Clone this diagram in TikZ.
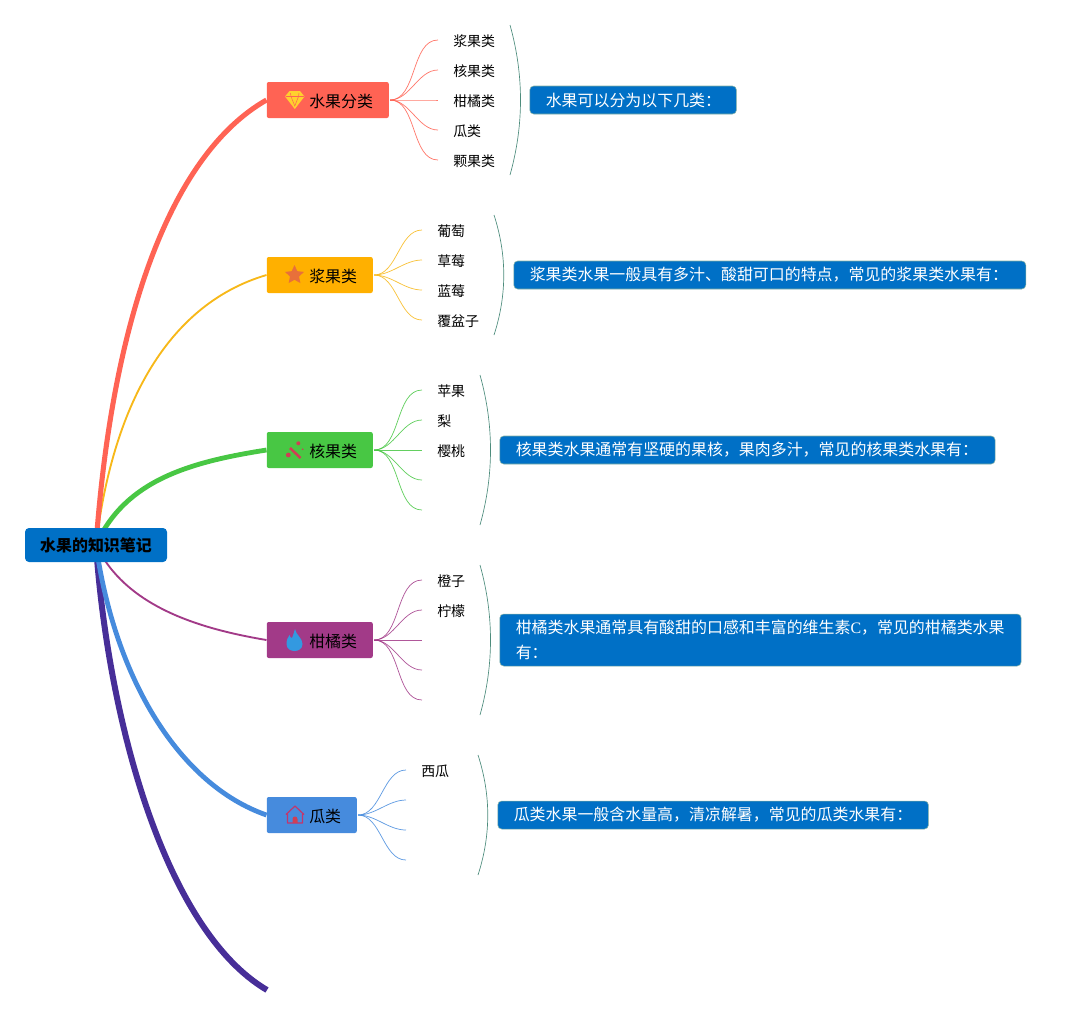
\documentclass[tikz,border=0pt]{standalone}
\usepackage{fontspec}
\setmainfont{Noto Sans CJK SC}
\newfontfamily\serifletter{Liberation Serif}
\usetikzlibrary{arrows.meta,positioning,calc,shapes.geometric}
\definecolor{TopicBlue}{HTML}{0070C6}
\definecolor{BranchRed}{HTML}{FF6354}
\definecolor{BranchAmber}{HTML}{F7B819}
\definecolor{BoxAmber}{HTML}{FFB000}
\definecolor{BranchGreen}{HTML}{48C744}
\definecolor{BranchPlum}{HTML}{A23A88}
\definecolor{BranchSky}{HTML}{468BDD}
\definecolor{BranchIndigo}{HTML}{472E98}
\definecolor{BraceTeal}{HTML}{4D8C7C}
\definecolor{IconGold}{HTML}{FFD02E}
\definecolor{IconOrange}{HTML}{E8703A}
\definecolor{IconRed}{HTML}{CF3F55}
\definecolor{IconFlame}{HTML}{3399E0}
\definecolor{IconHouse}{HTML}{C2366C}
\newcommand{\nudge}{\hspace*{1bp}}
\tikzset{
  topicbox/.style={fill=TopicBlue,rounded corners=3pt,align=center,inner sep=0pt,minimum width=106.5bp,minimum height=25.5bp,font=\fontsize{12}{14}\selectfont\bfseries},
  catbox/.style={rounded corners=1.5pt,anchor=west,inner sep=0pt,minimum height=27bp},
  catlabel/.style={anchor=west,inner sep=0pt,font=\fontsize{12}{14}\selectfont},
  notebox/.style={draw=BraceTeal!70,line width=.4pt,fill=TopicBlue,rounded corners=3pt,anchor=west,inner xsep=11bp,inner ysep=0pt,minimum height=21bp,align=left,text=white,font=\fontsize{12}{19}\selectfont},
  fruit/.style={anchor=west,inner sep=0pt,font=\fontsize{10.5}{12}\selectfont},
  twig/.style={line width=.55bp,opacity=.85},
  brace/.style={draw=BraceTeal,line width=.5bp}
}
\begin{document}
\begin{tikzpicture}[x=.75bp,y=-.75bp]
\useasboundingbox (0,0) rectangle (1070,1015);
% categories
\node[catbox,fill=BranchRed,minimum width=91.5bp] (cat1) at (266.5,100) {};
\node[catbox,fill=BoxAmber,minimum width=79.5bp] (cat2) at (266.5,275) {};
\node[catbox,fill=BranchGreen,minimum width=79.5bp] (cat3) at (266.5,450) {};
\node[catbox,fill=BranchPlum,minimum width=79.5bp] (cat4) at (266.5,640) {};
\node[catbox,fill=BranchSky,minimum width=67.5bp] (cat5) at (266.5,815) {};
\coordinate (cat6) at (267,990);
\node[catlabel] (label1) at (309,101) {水果分类};
\node[catlabel] (label2) at (309,276) {浆果类};
\node[catlabel] (label3) at (309,451) {核果类};
\node[catlabel] (label4) at (309,641) {柑橘类};
\node[catlabel] (label5) at (309,816) {瓜类};
% thick branches
\coordinate (root) at (96,545);
\draw[BranchIndigo,line width=4.5bp] (root) .. controls (108,720) and (165,930) .. (cat6);
\draw[BranchSky,line width=3.6bp] (root) .. controls (115,680) and (180,785) .. (cat5.west);
\draw[BranchPlum,line width=1.4bp] (root) .. controls (125,605) and (195,628) .. (cat4.west);
\draw[BranchGreen,line width=3.6bp] (root) .. controls (125,480) and (190,462) .. (cat3.west);
\draw[BranchAmber,line width=1.4bp] (root) .. controls (112,410) and (165,305) .. (cat2.west);
\draw[BranchRed,line width=3.8bp] (root) .. controls (112,320) and (170,155) .. (cat1.west);
\node[topicbox] (topic) at (96,545) {水果的知识笔记};
% icons
\fill[IconGold] (285,96.5) -- (289.5,91) -- (300,91) -- (304.5,96.5) -- (294.8,109) -- cycle;
\draw[BranchRed,line width=.4bp] (285.5,96.5) -- (304,96.5) (290.5,93) -- (291,96.5) -- (294.8,106) -- (298.5,96.5) -- (299,93);
\node[star,star points=5,star point ratio=2.1,fill=IconOrange,inner sep=0pt,minimum size=15bp] (staricon) at (294.5,275) {};
\draw[IconRed,line width=1.9bp] (290,448) -- (300.5,458);
\fill[IconRed] (288.3,455) circle (1.8bp) (298.3,443.3) circle (1.5bp) (302.7,449.3) circle (.7bp);
\fill[IconFlame] (295,629) .. controls (296,635) and (302.5,638) .. (302.5,644) .. controls (302.5,649) and (298,651) .. (294.5,651) .. controls (291,651) and (286.5,649) .. (286.5,644) .. controls (286.5,640) and (288,637) .. (289.5,635) .. controls (290,637) and (291,638) .. (292,638) .. controls (293,636) and (294,632) .. cycle;
\draw[IconHouse,line width=.9bp,line join=round] (286,814.5) -- (295,806) -- (304,814.5) (287.5,813) -- (287.5,823) -- (302.5,823) -- (302.5,813);
\fill[IconRed] (292.5,823) rectangle (297.5,819) (295,819) circle (2.5);
% fruit twigs
\foreach \cat/\ex/\clr/\ys in {cat1/438/BranchRed/{40,70,100,130,160},cat2/422/BranchAmber/{230,260,290,320},cat3/422/BranchGreen/{390,420,450,480,510},cat4/422/BranchPlum/{580,610,640,670,700},cat5/406/BranchSky/{770,800,830,860}}{
  \foreach \y in \ys {
    \coordinate (tip) at (\ex,\y);
    \draw[\clr,twig] ($(\cat.east)+(1,0)$) to[out=0,in=180,looseness=.9] (tip);
  }
}
\node[fruit] (a1) at (453,41) {浆果类};
\node[fruit] (a2) at (453,71) {核果类};
\node[fruit] (a3) at (453,101) {柑橘类};
\node[fruit] (a4) at (453,131) {瓜类};
\node[fruit] (a5) at (453,161) {颗果类};
\node[fruit] (b1) at (437,231) {葡萄};
\node[fruit] (b2) at (437,261) {草莓};
\node[fruit] (b3) at (437,291) {蓝莓};
\node[fruit] (b4) at (437,321) {覆盆子};
\node[fruit] (c1) at (437,391) {苹果};
\node[fruit] (c2) at (437,421) {梨};
\node[fruit] (c3) at (437,451) {樱桃};
\node[fruit] (d1) at (437,581) {橙子};
\node[fruit] (d2) at (437,611) {柠檬};
\node[fruit] (e1) at (421,771) {西瓜};
% braces and notes
\draw[brace] (510,25) .. controls (524,75) and (524,125) .. (510,175);
\draw[brace] (494,215) .. controls (507,255) and (507,295) .. (494,335);
\draw[brace] (480,375) .. controls (494,425) and (494,475) .. (480,525);
\draw[brace] (480,565) .. controls (494,615) and (494,665) .. (480,715);
\draw[brace] (478,755) .. controls (491,795) and (491,835) .. (478,875);
\node[notebox,text width=133bp] (note1) at (529.5,100) {\nudge 水果可以分为以下几类：};
\node[notebox,text width=362bp] (note2) at (513.5,275) {\nudge 浆果类水果一般具有多汁、酸甜可口的特点，常见的浆果类水果有：};
\node[notebox,text width=349.5bp] (note3) at (499.5,450) {\nudge 核果类水果通常有坚硬的果核，果肉多汁，常见的核果类水果有：};
\node[notebox,text width=369bp,minimum height=39bp] (note4) at (499.5,640) {\nudge 柑橘类水果通常具有酸甜的口感和丰富的维生素{\serifletter C}，常见的柑橘类水果\\\nudge 有：};
\node[notebox,text width=301bp] (note5) at (497.5,815) {\nudge 瓜类水果一般含水量高，清凉解暑，常见的瓜类水果有：};
\end{tikzpicture}
\end{document}
